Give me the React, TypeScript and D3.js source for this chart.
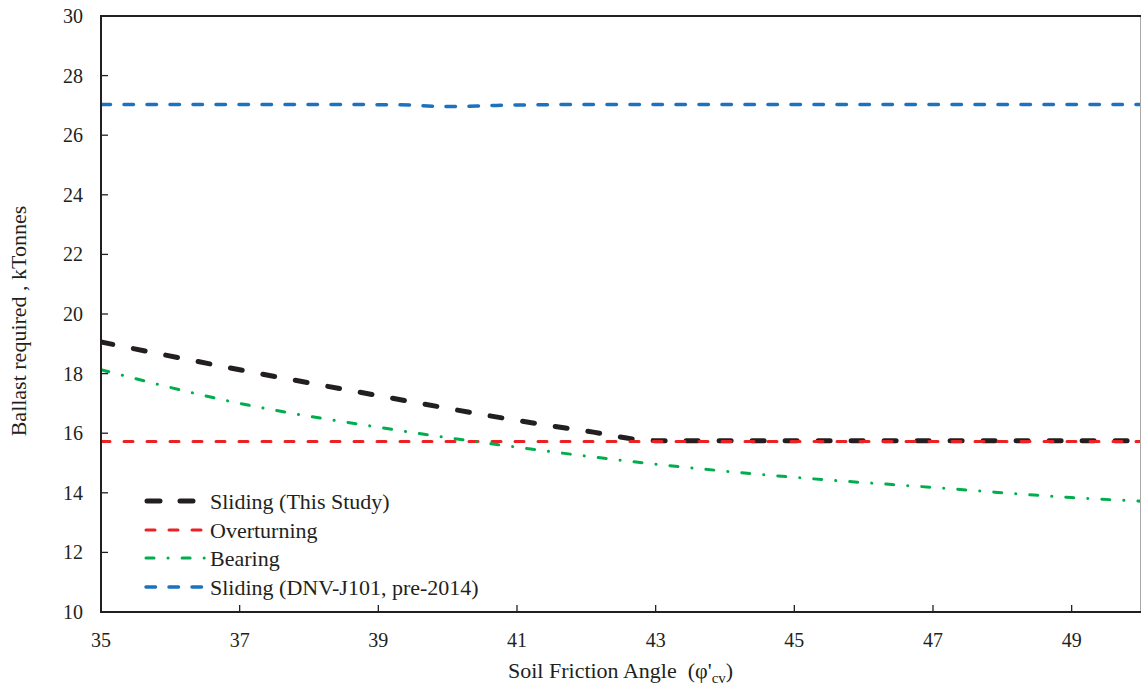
import React from "react";
import * as d3 from "d3";

const xTicks = [35, 37, 39, 41, 43, 45, 47, 49];
const yTicks = [10, 12, 14, 16, 18, 20, 22, 24, 26, 28, 30];

const slidingAngles = [35, 37, 39, 41, 42, 43, 44, 46, 48, 50];
const slidingValues = [19.06, 18.13, 17.26, 16.43, 16.07, 15.75, 15.75, 15.75, 15.75, 15.75];

const overturningAngles = [35, 50];
const overturningValues = [15.72, 15.72];

const bearingAngles = [35, 37, 39, 40, 41, 43, 45, 47, 49, 50];
const bearingValues = [18.13, 17.0, 16.2, 15.85, 15.53, 14.96, 14.52, 14.18, 13.84, 13.72];

const dnvAngles = [35, 38, 39.3, 40, 40.7, 42, 50];
const dnvValues = [27.03, 27.03, 27.02, 26.96, 27.0, 27.03, 27.03];

const seriesLabels = [
  "Sliding (This Study)",
  "Overturning",
  "Bearing",
  "Sliding (DNV-J101, pre-2014)",
];

const W = 1141;
const H = 686;
const left = 101;
const right = 1141;
const top = 16;
const bottom = 612;
const font = "'Liberation Serif', 'Times New Roman', serif";

const styles = [
  { color: "#231f20", width: 5, dash: "12 21" },
  { color: "#ed2024", width: 3, dash: "9 14" },
  { color: "#00ae4d", width: 3, dash: "8 14 0.1 14" },
  { color: "#1c72bd", width: 3.5, dash: "9.5 13.5" },
];

export default function App() {
  const x = d3.scaleLinear().domain([35, 50]).range([left, right]);
  const y = d3.scaleLinear().domain([10, 30]).range([bottom, top]);

  const mk = (xs: number[], ys: number[]) =>
    d3
      .line<number>()
      .x((_, i) => x(xs[i]))
      .y((d) => y(d))
      .curve(d3.curveMonotoneX)(ys) as string;

  const paths = [
    mk(slidingAngles, slidingValues),
    mk(overturningAngles, overturningValues),
    mk(bearingAngles, bearingValues),
    mk(dnvAngles, dnvValues),
  ];

  const legendY = [501, 530, 558, 587];

  return (
    <svg
      width={W}
      height={H}
      style={{ position: "absolute", left: 0, top: 0, background: "#fff" }}
      fontFamily={font}
    >
      <defs>
        <clipPath id="plot">
          <rect x={left} y={top - 2} width={right - left} height={bottom - top + 2} />
        </clipPath>
      </defs>

      {/* series */}
      <g clipPath="url(#plot)">
        {paths.map((p, i) => (
          <path
            key={i}
            d={p}
            fill="none"
            stroke={styles[i].color}
            strokeWidth={styles[i].width}
            strokeDasharray={styles[i].dash}
            strokeLinecap="round"
          />
        ))}
      </g>

      {/* frame */}
      <line x1={1140.5} x2={1140.5} y1={top} y2={bottom} stroke="#aaa" strokeWidth={1} />
      <line x1={left - 1} x2={right} y1={top} y2={top} stroke="#231f20" strokeWidth={2} />
      <line x1={left} x2={left} y1={top - 1} y2={bottom + 1} stroke="#231f20" strokeWidth={2} />
      <line x1={left - 1} x2={right} y1={bottom} y2={bottom} stroke="#231f20" strokeWidth={2} />

      {/* y ticks */}
      {yTicks.map((t) => (
        <g key={"y" + t}>
          <line x1={left} x2={left + 7} y1={y(t)} y2={y(t)} stroke="#231f20" strokeWidth={1.3} />
          <text x={83} y={y(t)} dy="0.35em" textAnchor="end" fontSize={20} fill="#231f20">
            {t}
          </text>
        </g>
      ))}

      {/* x ticks */}
      {xTicks.map((t) => (
        <g key={"x" + t}>
          <line x1={x(t)} x2={x(t)} y1={bottom} y2={bottom - 7} stroke="#231f20" strokeWidth={1.3} />
          <text x={x(t)} y={640} dy="0.35em" textAnchor="middle" fontSize={20} fill="#231f20">
            {t}
          </text>
        </g>
      ))}

      {/* axis titles */}
      <text x={508} y={678} fontSize={22} fill="#231f20">
        Soil Friction Angle{"\u00A0\u00A0"}(φ'
        <tspan fontSize={15} dy={5}>cv</tspan>
        <tspan dy={-5}>)</tspan>
      </text>
      <text
        transform={`translate(26, 321) rotate(-90)`}
        textAnchor="middle"
        fontSize={22}
        fill="#231f20"
      >
        Ballast required , kTonnes
      </text>

      {/* legend */}
      {seriesLabels.map((lab, i) => (
        <g key={lab}>
          <line
            x1={i === 0 ? 147 : 146}
            x2={i === 0 ? 208 : 207}
            y1={legendY[i]}
            y2={legendY[i]}
            stroke={styles[i].color}
            strokeWidth={styles[i].width}
            strokeDasharray={i === 0 ? "13 20" : styles[i].dash}
            strokeLinecap="round"
          />
          <text x={210} y={legendY[i]} dy="0.35em" fontSize={22} fill="#231f20">
            {lab}
          </text>
        </g>
      ))}
    </svg>
  );
}
